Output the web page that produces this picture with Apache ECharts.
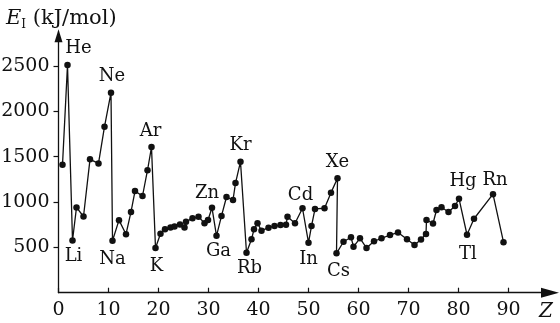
<!DOCTYPE html>
<html>
<head>
<meta charset="utf-8">
<script src="https://cdn.jsdelivr.net/npm/echarts@6/dist/echarts.min.js"></script>
<style>
html,body{margin:0;padding:0;background:#fff;}
#chart{width:560px;height:323px;}
</style>
</head>
<body>
<div id="chart"></div>
<script>
// Horizontal positions (Z) of the plotted points
const zPos = [0.8, 1.8, 2.8, 3.6, 5.0, 6.3, 8.0, 9.2, 10.5, 10.8,
  12.1, 13.5, 14.5, 15.3, 16.8, 17.8, 18.6, 19.4, 20.4, 21.3,
  22.4, 23.2, 24.3, 25.2, 25.5, 26.8, 28.0, 29.2, 29.9, 30.7,
  31.6, 32.6, 33.6, 34.9, 35.4, 36.4, 37.6, 38.6, 39.1, 39.8,
  40.6, 42.0, 43.2, 44.4, 45.5, 45.8, 47.3, 48.8, 50.0, 50.6,
  51.3, 53.2, 54.5, 55.8, 55.6, 57.0, 58.5, 59.0, 60.3, 61.6,
  63.1, 64.6, 66.3, 67.9, 69.7, 71.2, 72.5, 73.5, 73.6, 74.9,
  75.6, 76.6, 78.0, 79.3, 80.1, 81.7, 83.1, 86.9, 89.0];
// First ionization energies (kJ/mol)
const energy = [1410, 2510, 575, 940, 840, 1470, 1425, 1830, 2205, 573,
  800, 645, 890, 1120, 1066, 1350, 1605, 492, 650, 699,
  719, 730, 752, 719, 783, 820, 838, 765, 801, 936,
  627, 846, 1055, 1022, 1208, 1444, 441, 589, 699, 765,
  684, 717, 735, 745, 750, 838, 765, 931, 551, 735,
  923, 931, 1103, 1261, 434, 562, 611, 507, 600, 493,
  567, 600, 636, 664, 589, 526, 587, 647, 801, 763,
  912, 942, 890, 956, 1036, 639, 815, 1086, 557];
// Element labels and the point index each belongs to
const labelNames = ['He', 'Li', 'Ne', 'Na', 'Ar', 'K', 'Zn', 'Ga', 'Kr', 'Rb', 'Cd', 'In', 'Xe', 'Cs', 'Hg', 'Tl', 'Rn'];
const labelIndex = [1, 2, 8, 9, 16, 17, 29, 30, 35, 36, 47, 48, 53, 54, 74, 75, 77];
// Tick labels
const xTicks = [0, 10, 20, 30, 40, 50, 60, 70, 80, 90];
const yTicks = [500, 1000, 1500, 2000, 2500];

// label layout (pixel offsets of text centre from point centre)
const labelOffset = {
  He: [11, -17], Ne: [1, -16], Ar: [-1, -16], Kr: [0, -16], Xe: [0, -16],
  Zn: [-5, -14], Cd: [-2, -13], Hg: [4, -17], Rn: [2, -14],
  Li: [1, 16], Na: [0, 19], K: [1, 18], Ga: [2, 16], Rb: [3, 16],
  In: [0, 17], Cs: [2, 18], Tl: [1, 20]
};

const FONT = 'DejaVu Serif';
const INK = '#111';

const data = zPos.map((z, i) => {
  const item = { value: [z, energy[i]] };
  const k = labelIndex.indexOf(i);
  if (k >= 0) {
    const nm = labelNames[k];
    item.label = {
      show: true, position: 'inside', offset: labelOffset[nm],
      formatter: nm, color: INK, fontFamily: FONT, fontSize: 18
    };
  }
  return item;
});

const chart = echarts.init(document.getElementById('chart'), null, { renderer: 'canvas' });
chart.setOption({
  animation: false,
  backgroundColor: '#fff',
  title: {
    text: '{e|E}{s|I}{t| (kJ/mol)}',
    left: 1, top: 2,
    textStyle: {
      fontFamily: FONT, fontSize: 21, color: INK, fontWeight: 'normal',
      rich: {
        e: { fontFamily: FONT, fontSize: 21, fontStyle: 'italic', color: INK },
        s: { fontFamily: FONT, fontSize: 12, color: INK, verticalAlign: 'bottom', padding: [12, 0, 0, 0] },
        t: { fontFamily: FONT, fontSize: 21, color: INK }
      }
    }
  },
  graphic: [{
    type: 'text', left: 539, top: 302,
    style: { text: 'Z', fontFamily: FONT, fontSize: 20, fontStyle: 'italic', fill: INK }
  }],
  grid: { left: 58.5, top: 35.8, width: 491.5, height: 256.9, outerBoundsMode: 'none', containLabel: false },
  xAxis: {
    type: 'value', min: 0, max: 98.3,
    splitLine: { show: false },
    axisLine: { lineStyle: { color: INK, width: 1.3 }, symbol: ['none', 'triangle'], symbolSize: [10, 18] },
    axisTick: { inside: true, length: 5, lineStyle: { color: INK, width: 1.2 }, customValues: xTicks },
    axisLabel: { customValues: xTicks, margin: 8, color: INK, fontFamily: FONT, fontSize: 19, formatter: v => String(v) }
  },
  yAxis: {
    type: 'value', min: 0, max: 2832,
    splitLine: { show: false },
    axisLine: { show: true, lineStyle: { color: INK, width: 1.3 }, symbol: ['none', 'triangle'], symbolSize: [8, 13] },
    axisTick: { show: true, inside: false, length: 5, lineStyle: { color: INK, width: 1.2 }, customValues: yTicks },
    axisLabel: { customValues: yTicks, margin: 9, color: INK, fontFamily: FONT, fontSize: 19, formatter: v => String(v) }
  },
  series: [{
    type: 'line',
    data: data,
    symbol: 'circle',
    symbolSize: 6.5,
    showAllSymbol: true,
    itemStyle: { color: INK },
    lineStyle: { color: INK, width: 1.3 },
    emphasis: { disabled: true },
    z: 3
  }]
});
</script>
</body>
</html>
